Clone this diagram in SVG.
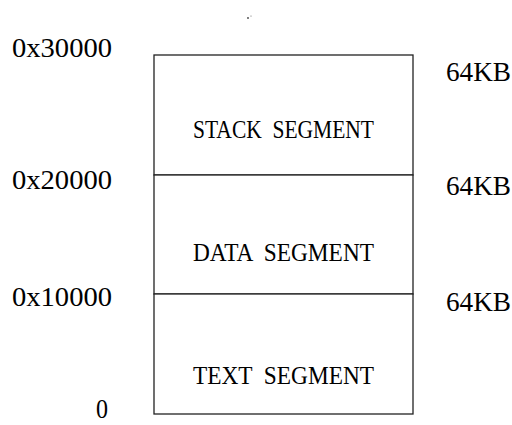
<svg xmlns="http://www.w3.org/2000/svg" width="512" height="425" viewBox="0 0 512 425">
  <style>
    .addr { font-family: "Liberation Serif", "DejaVu Serif", serif; font-size: 28px; fill: #000; }
    .size { font-family: "Liberation Serif", "DejaVu Serif", serif; font-size: 28px; fill: #000; }
    .seg-label { font-family: "Liberation Serif", "DejaVu Serif", serif; font-size: 26px; fill: #000; white-space: pre; }
    .seg { fill: #fff; stroke: #222; stroke-width: 1.3; }
  </style>
  <rect width="512" height="425" fill="#fff"/>

  <!-- stray mark above the memory map -->
  <circle cx="248" cy="18" r="0.9" fill="#444"/>
  <circle cx="251" cy="16" r="0.6" fill="#666"/>

  <!-- segments, from the top of the address space down -->
  <g id="stack-segment">
    <rect class="seg" x="154" y="55" width="259" height="120"/>
    <text class="seg-label" x="193" y="138" textLength="181" lengthAdjust="spacingAndGlyphs" xml:space="preserve">STACK  SEGMENT</text>
  </g>
  <g id="data-segment">
    <rect class="seg" x="154" y="175" width="259" height="119"/>
    <text class="seg-label" x="193" y="261" textLength="181" lengthAdjust="spacingAndGlyphs" xml:space="preserve">DATA  SEGMENT</text>
  </g>
  <g id="text-segment">
    <rect class="seg" x="154" y="294" width="259" height="120"/>
    <text class="seg-label" x="193" y="384" textLength="181" lengthAdjust="spacingAndGlyphs" xml:space="preserve">TEXT  SEGMENT</text>
  </g>

  <!-- address boundaries -->
  <g id="addresses">
    <text class="addr" x="12" y="57" textLength="100" lengthAdjust="spacingAndGlyphs">0x30000</text>
    <text class="addr" x="12" y="189" textLength="100" lengthAdjust="spacingAndGlyphs">0x20000</text>
    <text class="addr" x="12" y="306" textLength="100" lengthAdjust="spacingAndGlyphs">0x10000</text>
    <text class="addr" x="96" y="418" textLength="12" lengthAdjust="spacingAndGlyphs">0</text>
  </g>

  <!-- segment sizes -->
  <g id="sizes">
    <text class="size" x="446" y="81" textLength="65" lengthAdjust="spacingAndGlyphs">64KB</text>
    <text class="size" x="446" y="195" textLength="65" lengthAdjust="spacingAndGlyphs">64KB</text>
    <text class="size" x="446" y="311" textLength="65" lengthAdjust="spacingAndGlyphs">64KB</text>
  </g>
</svg>
